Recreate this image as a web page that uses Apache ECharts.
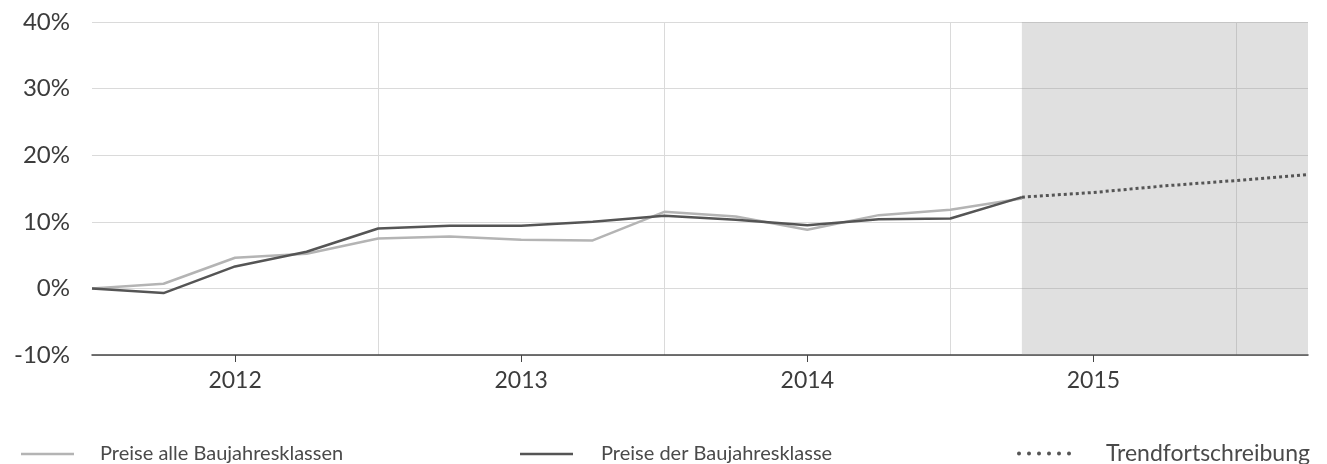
<!DOCTYPE html>
<html>
<head>
<meta charset="utf-8">
<script src="https://cdn.jsdelivr.net/npm/echarts@6/dist/echarts.min.js"></script>
<style>
  html, body { margin: 0; padding: 0; background: #fff; }
  #chart { width: 1327px; height: 464px; }
</style>
</head>
<body>
<div id="chart"></div>
<script>
// quarters, index 0 = Q4 2011, year boundaries at each Q4
const quarters = [
  '2011 Q4',
  '2012 Q1', '2012 Q2', '2012 Q3', '2012 Q4',
  '2013 Q1', '2013 Q2', '2013 Q3', '2013 Q4',
  '2014 Q1', '2014 Q2', '2014 Q3', '2014 Q4',
  '2015 Q1', '2015 Q2', '2015 Q3', '2015 Q4',
  '2016 Q1'
]
const allClasses = [0, 0.7, 4.6, 5.2, 7.5, 7.8, 7.3, 7.2, 11.5, 10.8, 8.8, 11.0, 11.8, 13.5]
const thisClass = [0, -0.7, 3.3, 5.5, 9.0, 9.4, 9.4, 10.0, 10.9, 10.3, 9.5, 10.4, 10.5, 13.7]
const trend = [null, null, null, null, null, null, null, null, null, null, null, null, null,
  13.7, 14.4, 15.4, 16.2, 17.1]
const yTicks = [-10, 0, 10, 20, 30, 40]
const forecastFrom = '2015 Q1'
const forecastTo = '2016 Q1'

const names = ['Preise alle Baujahresklassen', 'Preise der Baujahresklasse', 'Trendfortschreibung']
const font = 'Lato, "Open Sans", sans-serif'
const textColor = '#3c3c3c'
const legendColor = '#4a4a4a'
const gridColor = '#dadada'

// six round dots for the trend legend
const dots = 'path://' + [0, 1, 2, 3, 4, 5].map(i =>
  `M${i * 10 + 4},2 a2,2 0 1,0 -4,0 a2,2 0 1,0 4,0 Z`).join(' ')

const chart = echarts.init(document.getElementById('chart'))
chart.setOption({
  animation: false,
  backgroundColor: '#fff',
  textStyle: { fontFamily: font },
  grid: { left: 92, right: 19, top: 22, bottom: 109 },
  legend: [
    {
      left: 21, top: 444, padding: 0, data: [names[0]],
      icon: 'rect', itemWidth: 53, itemHeight: 2.5,
      textStyle: { fontSize: 20, color: legendColor, padding: [0, 0, 0, 21] }
    },
    {
      left: 520, top: 444, padding: 0, data: [names[1]],
      icon: 'rect', itemWidth: 53, itemHeight: 2.5,
      textStyle: { fontSize: 20, color: legendColor, padding: [0, 0, 0, 23] }
    },
    {
      left: 1017, top: 442, padding: 0, data: [names[2]],
      icon: dots, itemWidth: 58, itemHeight: 4,
      textStyle: { fontSize: 23, color: legendColor, padding: [0, 0, 0, 28] }
    }
  ],
  xAxis: {
    type: 'category',
    data: quarters,
    boundaryGap: false,
    axisLine: { onZero: false, lineStyle: { color: '#444', width: 1.5 } },
    axisTick: {
      interval: (i) => i % 4 === 2,
      length: 7,
      lineStyle: { color: '#444' }
    },
    axisLabel: {
      interval: (i) => i % 4 === 2,
      formatter: (v) => v.slice(0, 4),
      fontSize: 23, color: textColor, margin: 14
    },
    splitLine: {
      show: true,
      interval: (i) => i > 0 && i % 4 === 0,
      lineStyle: { color: gridColor }
    }
  },
  yAxis: {
    type: 'value',
    min: yTicks[0], max: yTicks[yTicks.length - 1], interval: 10,
    axisLine: { show: false },
    axisTick: { show: false },
    axisLabel: { formatter: '{value}%', fontSize: 24, color: textColor, margin: 22 },
    splitLine: { lineStyle: { color: gridColor } }
  },
  series: [
    {
      name: names[2], type: 'line', data: trend, connectNulls: true,
      symbol: 'none', z: 1,
      itemStyle: { color: '#555' },
      lineStyle: { color: '#555', width: 3, type: [3, 3] },
      markArea: {
        silent: true,
        itemStyle: { color: 'rgba(140,140,140,0.27)' },
        data: [[{ xAxis: forecastFrom }, { xAxis: forecastTo }]]
      }
    },
    {
      name: names[0], type: 'line', data: allClasses,
      symbol: 'none', z: 2,
      itemStyle: { color: '#b4b4b4' },
      lineStyle: { color: '#b4b4b4', width: 2.5 }
    },
    {
      name: names[1], type: 'line', data: thisClass,
      symbol: 'none', z: 3,
      itemStyle: { color: '#555' },
      lineStyle: { color: '#555', width: 2.5 }
    }
  ]
})
</script>
</body>
</html>
